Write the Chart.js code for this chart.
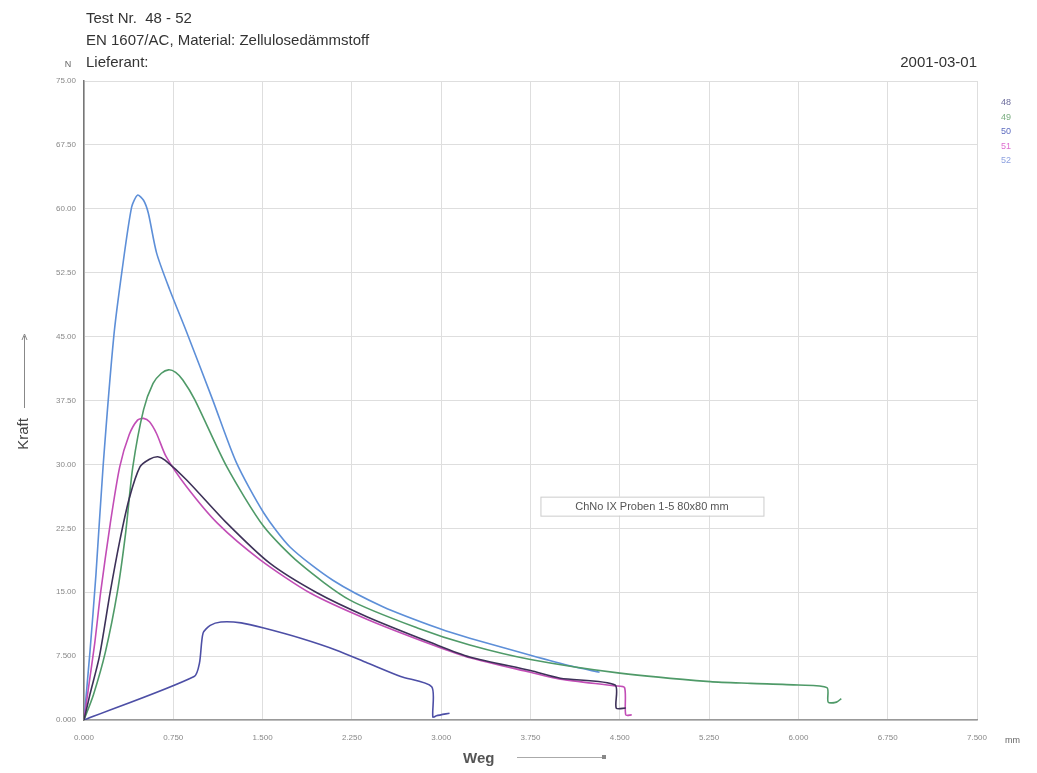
<!DOCTYPE html>
<html>
<head>
<meta charset="utf-8">
<script src="https://cdn.jsdelivr.net/npm/chart.js@4/dist/chart.umd.min.js"></script>
<style>
  body { margin: 0; background: #fff; }
  canvas { display: block; }
</style>
</head>
<body>
<canvas id="testChart" width="1037" height="773"></canvas>
<script>
// Weg (mm) / Kraft (N) per Probe
const weg48 = [0, 0.05, 0.13, 0.22, 0.30, 0.38, 0.47, 0.55, 0.62, 0.68, 0.86, 1.20, 1.56, 1.96, 2.38, 2.93, 3.24, 3.75, 4.00, 4.46, 4.47, 4.55];
const kraft48 = [0, 3.0, 7.5, 15.0, 21.0, 26.0, 29.7, 30.6, 30.9, 30.5, 28.2, 23.1, 18.4, 14.9, 12.1, 9.0, 7.4, 5.8, 4.9, 4.1, 1.4, 1.4];

const weg49 = [0, 0.08, 0.18, 0.28, 0.35, 0.41, 0.50, 0.58, 0.65, 0.71, 0.77, 0.83, 0.93, 1.20, 1.51, 1.81, 2.23, 2.80, 3.24, 3.75, 4.50, 5.26, 5.60, 6.00, 6.24, 6.25, 6.32, 6.36];
const kraft49 = [0, 3.0, 8.0, 15.0, 22.0, 29.7, 36.4, 39.5, 40.7, 41.1, 40.8, 39.9, 37.6, 29.7, 22.7, 18.4, 14.1, 10.8, 8.8, 7.1, 5.5, 4.5, 4.3, 4.1, 3.8, 2.1, 2.1, 2.5];

const weg50 = [0, 0.925, 0.97, 1.00, 1.06, 1.15, 1.32, 1.51, 1.82, 2.12, 2.38, 2.66, 2.92, 2.93, 2.96, 3.07];
const kraft50 = [0, 5.1, 6.7, 10.2, 11.1, 11.5, 11.4, 10.8, 9.6, 8.2, 6.7, 5.1, 3.9, 0.35, 0.5, 0.8];

const weg51 = [0, 0.04, 0.09, 0.14, 0.22, 0.30, 0.38, 0.45, 0.50, 0.55, 0.61, 0.69, 0.86, 1.12, 1.48, 1.90, 2.38, 2.93, 3.24, 3.75, 4.00, 4.46, 4.54, 4.55, 4.60];
const kraft51 = [0, 4.0, 9.0, 15.0, 23.0, 29.7, 33.5, 35.2, 35.4, 35.0, 33.6, 30.9, 27.4, 23.1, 18.8, 14.9, 11.8, 8.8, 7.3, 5.6, 4.8, 4.0, 3.8, 0.6, 0.6];

const weg52 = [0, 0.05, 0.10, 0.16, 0.25, 0.32, 0.40, 0.45, 0.50, 0.54, 0.61, 0.72, 0.86, 1.08, 1.28, 1.51, 1.73, 2.09, 2.51, 2.99, 3.24, 3.75, 4.10, 4.33];
const kraft52 = [0, 8.0, 17.0, 29.7, 45.0, 52.8, 60.2, 61.6, 61.0, 59.5, 54.8, 50.5, 45.6, 37.6, 30.2, 24.3, 20.3, 16.4, 13.3, 10.7, 9.6, 7.6, 6.3, 5.6];

const proben = ["48", "49", "50", "51", "52"];
const farben = ["#3d3158", "#4f9a68", "#4d4fa6", "#c24db6", "#5d8fd8"];
const legendFarben = ["#6c6c9c", "#7aae80", "#5d6cc0", "#de6ed0", "#8ea2e0"];

const xTicksMax = 7.5, xStep = 0.75;
const yTicksMax = 75, yStep = 7.5;

function pairs(xs, ys) {
    return xs.map(function (x, i) { return { x: x, y: ys[i] }; });
}

const serien = [
    pairs(weg48, kraft48),
    pairs(weg49, kraft49),
    pairs(weg50, kraft50),
    pairs(weg51, kraft51),
    pairs(weg52, kraft52)
];

const textPlugin = {
    id: "beschriftung",
    beforeDraw: function (chart) {
        const ctx = chart.ctx;
        ctx.save();
        ctx.fillStyle = "#fff";
        ctx.fillRect(0, 0, chart.width, chart.height);
        ctx.restore();
    },
    afterDraw: function (chart) {
        const ctx = chart.ctx;
        const area = chart.chartArea;
        const xs = chart.scales.x, ys = chart.scales.y;
        ctx.save();

        // header
        ctx.fillStyle = "#333";
        ctx.font = "15px 'Liberation Sans', Arial, sans-serif";
        ctx.textBaseline = "middle";
        ctx.textAlign = "left";
        ctx.fillText("Test Nr.  48 - 52", 86, 19);
        ctx.fillText("EN 1607/AC, Material: Zellulosedämmstoff", 86, 41);
        ctx.fillText("Lieferant:", 86, 63);
        ctx.textAlign = "right";
        ctx.fillText("2001-03-01", area.right, 63);

        // units
        ctx.fillStyle = "#666";
        ctx.font = "9px 'Liberation Sans', Arial, sans-serif";
        ctx.textAlign = "center";
        ctx.fillText("N", 68, 65);
        ctx.textAlign = "left";
        ctx.fillText("mm", 1005, 741);

        // Weg label + arrow
        ctx.fillStyle = "#555";
        ctx.font = "bold 15px 'Liberation Sans', Arial, sans-serif";
        ctx.textAlign = "left";
        ctx.fillText("Weg", 463, 759);
        ctx.strokeStyle = "#aaa";
        ctx.lineWidth = 1;
        ctx.beginPath();
        ctx.moveTo(517, 757.5);
        ctx.lineTo(603, 757.5);
        ctx.stroke();
        ctx.fillStyle = "#888";
        ctx.fillRect(602, 755, 4, 4);

        // Kraft label + arrow
        ctx.save();
        ctx.translate(24, 434);
        ctx.rotate(-Math.PI / 2);
        ctx.fillStyle = "#444";
        ctx.font = "15px 'Liberation Sans', Arial, sans-serif";
        ctx.textAlign = "center";
        ctx.fillText("Kraft", 0, 0);
        ctx.restore();
        ctx.strokeStyle = "#888";
        ctx.beginPath();
        ctx.moveTo(24.5, 408);
        ctx.lineTo(24.5, 336);
        ctx.stroke();
        ctx.beginPath();
        ctx.moveTo(22, 340);
        ctx.lineTo(24.5, 334);
        ctx.lineTo(27, 340);
        ctx.stroke();

        // legend
        ctx.font = "9px 'Liberation Sans', Arial, sans-serif";
        ctx.textAlign = "left";
        proben.forEach(function (p, i) {
            ctx.fillStyle = legendFarben[i];
            ctx.fillText(p, 1001, 103 + i * 14.5);
        });

        // note box
        const cx = xs.getPixelForValue(4.77), cy = ys.getPixelForValue(25.1);
        ctx.font = "11px 'Liberation Sans', Arial, sans-serif";
        ctx.textAlign = "center";
        const note = "ChNo IX Proben 1-5 80x80 mm";
        const w = 223, h = 19;
        ctx.fillStyle = "#fff";
        ctx.fillRect(cx - w / 2, cy - h / 2, w, h);
        ctx.strokeStyle = "#ccc";
        ctx.strokeRect(cx - w / 2 + 0.5, cy - h / 2 + 0.5, w, h);
        ctx.fillStyle = "#555";
        ctx.fillText(note, cx, cy + 1);

        ctx.restore();
    }
};

new Chart(document.getElementById("testChart"), {
    type: "scatter",
    data: {
        datasets: serien.map(function (d, i) {
            return {
                label: proben[i],
                data: d,
                showLine: true,
                borderColor: farben[i],
                backgroundColor: farben[i],
                borderWidth: 1.6,
                pointRadius: 0,
                tension: 0.25
            };
        })
    },
    options: {
        responsive: false,
        animation: false,
        devicePixelRatio: 1,
        layout: { padding: { top: 81, right: 60, left: 0, bottom: 0 } },
        plugins: {
            legend: { display: false },
            tooltip: { enabled: false }
        },
        scales: {
            x: {
                type: "linear",
                min: 0,
                max: xTicksMax,
                afterFit: function (scale) { scale.height = 53; },
                border: { color: "#999", width: 1.5 },
                grid: { color: "#dedede", lineWidth: 1, drawTicks: false },
                ticks: {
                    stepSize: xStep,
                    padding: 13,
                    color: "#888",
                    font: { size: 8, family: "'Liberation Sans', Arial, sans-serif" },
                    maxRotation: 0,
                    callback: function (v) { return v.toFixed(3); }
                }
            },
            y: {
                min: 0,
                max: yTicksMax,
                afterFit: function (scale) { scale.width = 84; },
                border: { color: "#777", width: 1.5 },
                grid: { color: "#dedede", lineWidth: 1, drawTicks: false },
                ticks: {
                    stepSize: yStep,
                    padding: 8,
                    color: "#888",
                    font: { size: 8, family: "'Liberation Sans', Arial, sans-serif" },
                    callback: function (v) { return v.toPrecision(4); }
                }
            }
        }
    },
    plugins: [textPlugin]
});
</script>
</body>
</html>
